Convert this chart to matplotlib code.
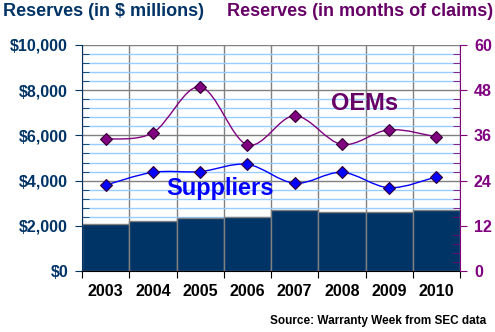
import numpy as np
import matplotlib
matplotlib.use("Agg")
import matplotlib.pyplot as plt
from matplotlib.path import Path
from matplotlib.patches import PathPatch
from matplotlib.ticker import MultipleLocator, FixedLocator, NullFormatter, FuncFormatter

plt.rcParams['font.family'] = ['Liberation Sans', 'DejaVu Sans']
plt.rcParams['font.weight'] = 'bold'

# data
years = ['2003', '2004', '2005', '2006', '2007', '2008', '2009', '2010']
reserves_musd = [2100, 2230, 2360, 2410, 2720, 2590, 2630, 2720]
oem_months = [35.0, 36.7, 48.9, 33.5, 41.2, 33.6, 37.5, 35.6]
supplier_months = [22.8, 26.2, 26.4, 28.3, 23.3, 26.2, 22.1, 25.0]

NAVY = '#003366'
PURPLE = '#800080'
DARKPURPLE = '#660066'
BLUE = '#0000FF'


def smooth_path(xs, ys):
    # bezier segments, like a spreadsheet "smoothed line"
    pts = np.column_stack([xs, ys])
    ext = np.vstack([pts[0], pts, pts[-1]])
    verts = [pts[0]]
    codes = [Path.MOVETO]
    for i in range(len(pts) - 1):
        p0, p1, p2, p3 = ext[i], ext[i + 1], ext[i + 2], ext[i + 3]
        c1 = p1 + (p2 - p0) / 6.0
        c2 = p2 - (p3 - p1) / 6.0
        verts += [c1, c2, p2]
        codes += [Path.CURVE4] * 3
    return Path(verts, codes)


fig = plt.figure(figsize=(4.95, 3.32), dpi=100)
ax = fig.add_axes([0.1657, 0.1837, 0.7636, 0.6808])
x = np.arange(len(years)) + 0.5

ax.set_xlim(0, len(years))
ax.set_ylim(0, 10000)
ax.set_axisbelow(True)
ax.yaxis.set_major_locator(MultipleLocator(2000))
ax.yaxis.set_minor_locator(MultipleLocator(400))
ax.grid(which='minor', axis='y', color='#99CCFF', lw=1)
ax.grid(which='major', axis='y', color='#808080', lw=1)
ax.xaxis.set_major_locator(FixedLocator(np.arange(len(years) + 1)))
ax.grid(which='major', axis='x', color='#808080', lw=1)

ax.bar(x, reserves_musd, width=1.0, color=NAVY, edgecolor='#808080', lw=1, zorder=2)

ax.yaxis.set_major_formatter(FuncFormatter(lambda v, p: '${:,.0f}'.format(v)))
ax.tick_params(axis='y', which='major', direction='out', length=5, color=NAVY,
               labelcolor=NAVY, labelsize=11.5, pad=5)
ax.tick_params(axis='y', which='minor', direction='in', length=5, color=NAVY)
ax.xaxis.set_minor_locator(FixedLocator(x))
ax.xaxis.set_major_formatter(NullFormatter())
ax.set_xticklabels(years, minor=True)
ax.tick_params(axis='x', which='major', direction='out', length=5, color='black')
ax.tick_params(axis='x', which='minor', length=0, labelsize=11.5, labelcolor='black', pad=9)
ax.spines['left'].set_color(NAVY)
ax.spines['bottom'].set_color('black')
ax.spines['top'].set_visible(False)
ax.spines['right'].set_visible(False)

ax2 = ax.twinx()
ax2.set_ylim(0, 60)
ax2.yaxis.set_major_locator(MultipleLocator(12))
ax2.yaxis.set_minor_locator(MultipleLocator(2.4))
ax2.tick_params(axis='y', which='major', direction='out', length=5, color=PURPLE,
                labelcolor=PURPLE, labelsize=11.5, pad=5)
ax2.tick_params(axis='y', which='minor', direction='in', length=5, color=PURPLE)
ax2.spines['right'].set_color(PURPLE)
for s in ['left', 'top', 'bottom']:
    ax2.spines[s].set_visible(False)

for vals, col in [(oem_months, PURPLE), (supplier_months, BLUE)]:
    ax2.add_patch(PathPatch(smooth_path(x, vals), fc='none', ec=col, lw=1, zorder=3))
    ax2.plot(x, vals, ls='none', marker='D', ms=6, mfc=col, mec='#330033', mew=0.8, zorder=4)

ax2.text(365 / 495, 1 - 103 / 332, 'OEMs', transform=fig.transFigure, color=DARKPURPLE,
         fontsize=17, ha='center', va='center')
ax2.text(220 / 495, 1 - 188 / 332, 'Suppliers', transform=fig.transFigure, color=BLUE,
         fontsize=17, ha='center', va='center')

fig.text(3 / 495, 1 - 12 / 332, 'Reserves (in $ millions)', color=NAVY, fontsize=13,
         ha='left', va='center')
fig.text(493 / 495, 1 - 12 / 332, 'Reserves (in months of claims)', color=DARKPURPLE,
         fontsize=13, ha='right', va='center')
fig.text(486 / 495, 1 - 321 / 332, 'Source: Warranty Week from SEC data', color='black',
         fontsize=8.5, ha='right', va='center')

fig.savefig('out.png', dpi=100)
